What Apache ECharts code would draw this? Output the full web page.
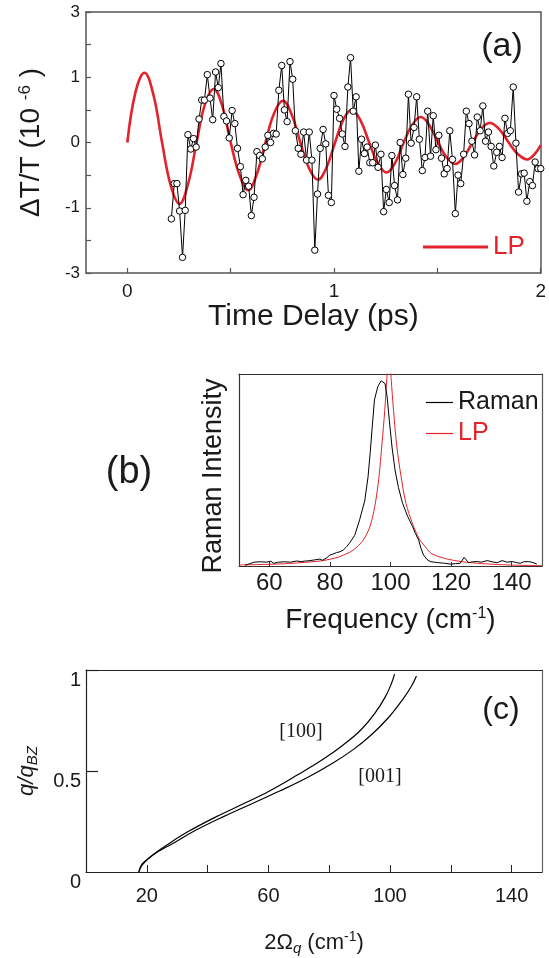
<!DOCTYPE html>
<html><head><meta charset="utf-8">
<script src="https://cdn.jsdelivr.net/npm/echarts@6/dist/echarts.min.js"></script>
<style>html,body{margin:0;padding:0;background:#fff}#chart{width:549px;height:958px}</style>
</head><body><div id="chart"></div>
<script>
// ---------- Panel (a): pump-probe transient ----------
const aTime = [0.213,0.227,0.240,0.253,0.267,0.280,0.293,0.307,0.320,0.333,0.347,0.360,0.373,0.387,0.400,0.413,0.427,0.440,0.453,0.467,0.480,0.493,0.507,0.520,0.533,0.547,0.560,0.573,0.587,0.600,0.613,0.627,0.640,0.653,0.667,0.680,0.693,0.707,0.720,0.733,0.747,0.760,0.773,0.787,0.800,0.813,0.827,0.840,0.853,0.867,0.880,0.893,0.907,0.920,0.933,0.947,0.960,0.973,0.987,1.000,1.013,1.027,1.040,1.053,1.067,1.080,1.093,1.107,1.120,1.133,1.147,1.160,1.173,1.187,1.200,1.213,1.227,1.240,1.253,1.267,1.280,1.293,1.307,1.320,1.333,1.347,1.360,1.373,1.387,1.400,1.413,1.427,1.440,1.453,1.467,1.480,1.493,1.507,1.520,1.533,1.547,1.560,1.573,1.587,1.600,1.613,1.627,1.640,1.653,1.667,1.680,1.693,1.707,1.720,1.733,1.747,1.760,1.773,1.787,1.800,1.813,1.827,1.840,1.853,1.867,1.880,1.893,1.907,1.920,1.933,1.947,1.960,1.973,1.987,2.000];
const aSignal = [-1.17,-0.63,-0.63,-1.05,-1.76,-1.04,0.12,-0.10,0.06,-0.07,0.36,0.65,0.65,1.04,0.68,0.35,1.08,0.84,1.21,0.40,0.33,0.07,0.49,0.29,-0.09,-0.37,-0.80,-0.58,-0.67,-1.12,-0.84,-0.14,-0.20,-0.25,-0.07,0.11,0.00,0.14,0.13,0.80,1.18,0.50,0.32,1.24,0.97,0.18,-0.09,-0.18,0.16,-0.27,0.16,-0.27,-1.65,-0.79,-0.09,0.20,-0.02,-0.81,-0.92,0.72,0.51,0.37,0.13,-0.06,0.85,1.30,0.48,0.70,-0.44,0.05,-0.17,-0.07,-0.31,-0.31,-0.04,-0.38,-0.18,-1.06,-0.72,-0.92,-0.20,-0.66,-0.88,0.00,-0.49,-0.24,0.74,-0.01,0.23,0.70,0.05,-0.43,-0.23,0.48,-0.21,0.41,-0.11,0.11,-0.24,-0.48,-0.40,0.18,-0.26,-1.09,-0.50,-0.63,-0.18,0.48,0.29,0.02,-0.19,0.39,0.18,0.56,0.02,0.16,-0.06,-0.36,-0.15,-0.06,-0.23,0.37,0.14,0.18,0.85,-0.01,-0.76,-0.48,-0.47,-0.90,-0.60,-0.66,-0.30,-0.40,-0.40];
const lpTime = [0,0.04,0.083,0.127,0.168,0.21,0.253,0.295,0.335,0.375,0.418,0.46,0.50,0.543,0.585,0.627,0.668,0.71,0.753,0.795,0.837,0.88,0.922,0.964,1.005,1.045,1.085,1.128,1.17,1.212,1.254,1.296,1.337,1.378,1.42,1.462,1.503,1.545,1.587,1.628,1.67,1.712,1.755,1.80,1.845,1.89,1.935,1.97,2.0];
const lpSignal = [0,0.78,1.07,0.72,0,-0.66,-0.94,-0.62,0,0.58,0.82,0.55,0,-0.50,-0.73,-0.48,0,0.45,0.64,0.43,0,-0.40,-0.57,-0.38,0,0.35,0.50,0.34,0,-0.32,-0.46,-0.31,0,0.27,0.39,0.26,0,-0.23,-0.33,-0.22,0,0.21,0.30,0.20,0,-0.18,-0.26,-0.18,-0.04];
const aXTicks = [0,0.5,1,1.5,2];
const aXLabels = [0,1,2];
const aYTicks = [-2,-1.5,-1,-0.5,0,0.5,1,1.5,2];
const aYLabels = [-2,-1,0,1,2];
const aYLabelText = {'-2':'-3','-1':'-1','0':'0','1':'1','2':'3'};

// ---------- Panel (b): Raman spectrum ----------
const bRamanFreq = [52,53.5,55,57,59,60.5,61.5,63,65,67,69,70.5,72,73.4,75,76.7,77.5,78.9,80,81,82.2,83.3,84.4,85.5,86.5,88.2,89.8,91.5,92.6,93.3,94,94.7,95.8,96.9,97.5,98.2,98.9,99.6,100.5,101.5,102.6,104,105.7,107.3,108.2,109.3,110.1,110.9,112,113.1,114.5,115.8,117.5,119.7,121.5,123,124.3,125.8,127,128.6,130,131.9,133.5,135.2,136.8,138.5,140.1,141.5,142.8,144,145.6,147,148.3];
const bRaman = [0.004,0.012,0.02,0.022,0.02,0.025,0.014,0.02,0.022,0.02,0.026,0.023,0.026,0.028,0.032,0.036,0.03,0.042,0.057,0.062,0.07,0.074,0.083,0.1,0.12,0.16,0.24,0.34,0.465,0.59,0.73,0.865,0.934,0.965,0.972,0.95,0.88,0.76,0.62,0.5,0.41,0.326,0.257,0.205,0.17,0.135,0.09,0.057,0.035,0.023,0.02,0.017,0.015,0.01,0.012,0.014,0.045,0.017,0.022,0.023,0.02,0.028,0.022,0.017,0.028,0.02,0.023,0.018,0.014,0.022,0.023,0.018,0.01];
const bLPFreq = [50,55,60,65,70.1,76.7,80,83.3,87.7,91,93.2,94.8,96.1,97.2,98.1,98.8,99.3,99.9,100.2,101,102.1,103.5,105.1,107.3,109.5,111.5,113.4,117.8,123.3,128.8,134,139.7,145,150];
const bLP = [0.005,0.007,0.009,0.012,0.017,0.026,0.035,0.049,0.083,0.135,0.205,0.31,0.45,0.64,0.81,0.977,1.04,1.04,0.977,0.81,0.62,0.465,0.326,0.22,0.14,0.1,0.066,0.04,0.023,0.014,0.009,0.005,0.003,0.002];
const bXTicks = [60,80,100,120,140];

// ---------- Panel (c): dispersion ----------
const c100Freq = [17.4,17.7,18.5,20.3,22.6,26.6,33.6,42.9,52.1,60.2,69.5,77.6,84.6,90.4,95,98.5,100.5,101.5];
const c100Q = [0,0.018,0.04,0.064,0.092,0.134,0.2,0.274,0.34,0.40,0.48,0.554,0.629,0.703,0.785,0.868,0.934,0.98];
const c001Freq = [17.4,18.5,22,29,35.9,45.2,54.4,63.7,73,81.1,88,93.8,99.6,104.2,107.1,108.7];
const c001Q = [0,0.035,0.084,0.145,0.205,0.274,0.337,0.401,0.469,0.538,0.607,0.678,0.766,0.855,0.921,0.970];
const cXTicks = [20,40,60,80,100,120,140];
const cXLabels = [20,60,100,140];
const cYTicks = [0.5,1];
const cYLabels = [0,0.5,1];

const FONT = '"Liberation Sans", Arial, Helvetica, sans-serif';
const SERIF = '"Liberation Serif", "Times New Roman", serif';
const RED = '#e3232b';
const INK = '#1a1a1a';
const pairs = (xs, ys) => xs.map((x, i) => [x, ys[i]]);

// frame lines (top / right) as bare axes
const frameX = (g, min, max, color, w) => ({gridIndex: g, type: 'value', position: 'top', min, max,
  axisLine: {show: true, onZero: false, lineStyle: {color, width: w}}, axisTick: {show: false},
  axisLabel: {show: false}, splitLine: {show: false}});
const frameY = (g, min, max, color, w) => ({gridIndex: g, type: 'value', position: 'right', min, max,
  axisLine: {show: true, onZero: false, lineStyle: {color, width: w}}, axisTick: {show: false},
  axisLabel: {show: false}, splitLine: {show: false}});

const chart = echarts.init(document.getElementById('chart'), null, {renderer: 'canvas'});

const option = {
  animation: false,
  backgroundColor: '#fff',
  textStyle: {fontFamily: FONT},
  grid: [
    {left: 86, top: 12, width: 456, height: 261},
    {left: 239, top: 374, width: 303, height: 192},
    {left: 86, top: 670, width: 456, height: 202}
  ],
  xAxis: [
    {gridIndex: 0, type: 'value', min: -0.2, max: 2, position: 'bottom',
      axisLine: {show: true, onZero: false, lineStyle: {color: '#555', width: 1.5}}, splitLine: {show: false},
      axisTick: {show: true, inside: true, length: 5, customValues: aXTicks, lineStyle: {color: '#555', width: 1.2}},
      axisLabel: {customValues: aXLabels, fontSize: 19, color: INK, margin: 9, fontFamily: FONT},
      name: 'Time Delay (ps)', nameLocation: 'middle', nameGap: 29,
      nameTextStyle: {fontSize: 30, color: INK, fontFamily: FONT}},
    {gridIndex: 1, type: 'value', min: 50, max: 150, position: 'bottom',
      axisLine: {show: true, onZero: false, lineStyle: {color: '#333', width: 1.2}}, splitLine: {show: false},
      axisTick: {show: true, inside: true, length: 4, customValues: bXTicks, lineStyle: {color: '#333', width: 1}},
      axisLabel: {customValues: bXTicks, fontSize: 24, color: INK, margin: 5, fontFamily: FONT},
      name: '{n|Frequency (cm}{p|-1}{n|)}', nameLocation: 'middle', nameGap: 40,
      nameTextStyle: {rich: {n: {fontSize: 28, color: INK, fontFamily: FONT, lineHeight: 32, verticalAlign: 'top'}, p: {fontSize: 16, color: INK, fontFamily: FONT, lineHeight: 18, verticalAlign: 'top'}}}},
    {gridIndex: 2, type: 'value', min: 0, max: 150, position: 'bottom',
      axisLine: {show: true, onZero: false, lineStyle: {color: '#222', width: 1.2}}, splitLine: {show: false},
      axisTick: {show: true, inside: true, length: 7, customValues: cXTicks, lineStyle: {color: '#222', width: 1}},
      axisLabel: {customValues: cXLabels, fontSize: 20, color: INK, margin: 14, fontFamily: FONT},
      name: '{n|2Ω}{q|q}{n| (cm}{p|-1}{n|)}', nameLocation: 'middle', nameGap: 58,
      nameTextStyle: {rich: {
        n: {fontSize: 22, color: INK, fontFamily: FONT, lineHeight: 26, verticalAlign: 'middle'},
        q: {fontSize: 15, color: INK, fontFamily: FONT, fontStyle: 'italic', lineHeight: 14, verticalAlign: 'bottom'},
        p: {fontSize: 14, color: INK, fontFamily: FONT, lineHeight: 14, verticalAlign: 'top'}}}},
    frameX(0, -0.2, 2, '#555', 1.5),
    frameX(1, 50, 150, '#333', 1.2),
    frameX(2, 0, 150, '#222', 1.2)
  ],
  yAxis: [
    {gridIndex: 0, type: 'value', min: -2, max: 2, position: 'left',
      axisLine: {show: true, onZero: false, lineStyle: {color: '#555', width: 1.5}}, splitLine: {show: false},
      axisTick: {show: true, inside: true, length: 5, customValues: aYTicks, lineStyle: {color: '#555', width: 1.2}},
      axisLabel: {customValues: aYLabels, fontSize: 17, color: INK, margin: 6, fontFamily: FONT,
        formatter: v => aYLabelText[String(v)]},
      name: '{n|ΔT/T (10 }{p|-6}{n| )}', nameLocation: 'middle', nameGap: 35,
      nameTextStyle: {rich: {n: {fontSize: 28, color: INK, fontFamily: FONT, lineHeight: 34, verticalAlign: 'top'}, p: {fontSize: 17, color: INK, fontFamily: FONT, lineHeight: 18, verticalAlign: 'top'}}}},
    {gridIndex: 1, type: 'value', min: 0, max: 1, position: 'left',
      axisLine: {show: true, onZero: false, lineStyle: {color: '#333', width: 1.2}}, splitLine: {show: false},
      axisTick: {show: false}, axisLabel: {show: false},
      name: 'Raman Intensity', nameLocation: 'middle', nameGap: 12, nameTextStyle: {fontSize: 27, color: INK, fontFamily: FONT, padding: [0, 12, 0, 0]}},
    {gridIndex: 2, type: 'value', min: 0, max: 1, position: 'left',
      axisLine: {show: true, onZero: false, lineStyle: {color: '#222', width: 1.2}}, splitLine: {show: false},
      axisTick: {show: true, inside: true, length: 12, customValues: cYTicks, lineStyle: {color: '#222', width: 1.2}},
      axisLabel: {customValues: cYLabels, fontSize: 20, color: INK, margin: 5, fontFamily: FONT, verticalAlign: 'top'},
      name: '{i|q/q}{s|BZ}', nameLocation: 'middle', nameGap: 46,
      nameTextStyle: {rich: {
        i: {fontSize: 22, color: INK, fontFamily: FONT, fontStyle: 'italic', lineHeight: 26, verticalAlign: 'middle'},
        s: {fontSize: 15, color: INK, fontFamily: FONT, fontStyle: 'italic', lineHeight: 14, verticalAlign: 'bottom'}}}},
    frameY(0, -2, 2, '#555', 1.5),
    frameY(1, 0, 1, '#555', 1.2),
    frameY(2, 0, 1, '#666', 1.2)
  ],
  legend: [
    {data: [{name: 'LP', textStyle: {color: RED}}], left: 418, top: 229, icon: 'rect', itemWidth: 65, itemHeight: 3,
      selectedMode: false, textStyle: {fontSize: 26, fontFamily: FONT, color: RED}},
    {data: [{name: 'Raman', textStyle: {color: INK}}, {name: 'LP', textStyle: {color: RED}}], orient: 'vertical', left: 421, top: 385,
      icon: 'rect', itemWidth: 27, itemHeight: 1.2, itemGap: 6, selectedMode: false,
      textStyle: {fontSize: 25, fontFamily: FONT}}
  ],
  series: [
    {name: 'LP', type: 'line', xAxisIndex: 0, yAxisIndex: 0, data: pairs(lpTime, lpSignal),
      smooth: 0.4, showSymbol: false, color: RED, lineStyle: {color: RED, width: 2.6}, z: 2},
    {name: 'ΔT/T', type: 'line', xAxisIndex: 0, yAxisIndex: 0, data: pairs(aTime, aSignal),
      symbol: 'circle', symbolSize: 6.5, showAllSymbol: true, color: '#000',
      itemStyle: {color: '#fff', borderColor: '#000', borderWidth: 1},
      lineStyle: {color: '#000', width: 1}, z: 3},
    {name: 'Raman', type: 'line', xAxisIndex: 1, yAxisIndex: 1, data: pairs(bRamanFreq, bRaman),
      showSymbol: false, color: '#000', lineStyle: {color: '#000', width: 1}, z: 3},
    {name: 'LP', type: 'line', xAxisIndex: 1, yAxisIndex: 1, data: pairs(bLPFreq, bLP),
      smooth: 0.3, showSymbol: false, color: RED, lineStyle: {color: RED, width: 1}, z: 2},
    {name: '[100]', type: 'line', xAxisIndex: 2, yAxisIndex: 2, data: pairs(c100Freq, c100Q),
      smooth: 0.4, showSymbol: false, color: '#000', lineStyle: {color: '#000', width: 1.2}},
    {name: '[001]', type: 'line', xAxisIndex: 2, yAxisIndex: 2, data: pairs(c001Freq, c001Q),
      smooth: 0.4, showSymbol: false, color: '#000', lineStyle: {color: '#000', width: 1.2}}
  ],
  graphic: [
    {type: 'text', x: 502, y: 47, style: {text: '(a)', fontSize: 34, fontFamily: FONT, fill: INK, align: 'center', verticalAlign: 'middle'}},
    {type: 'text', x: 129, y: 473, style: {text: '(b)', fontSize: 38, fontFamily: FONT, fill: INK, align: 'center', verticalAlign: 'middle'}},
    {type: 'text', x: 501, y: 710, style: {text: '(c)', fontSize: 32, fontFamily: FONT, fill: INK, align: 'center', verticalAlign: 'middle'}},
    {type: 'text', x: 301, y: 732, style: {text: '[100]', fontSize: 20, fontFamily: SERIF, fill: INK, align: 'center', verticalAlign: 'middle'}},
    {type: 'text', x: 380, y: 777, style: {text: '[001]', fontSize: 20, fontFamily: SERIF, fill: INK, align: 'center', verticalAlign: 'middle'}}
  ]
};
chart.setOption(option);
</script>
</body></html>
